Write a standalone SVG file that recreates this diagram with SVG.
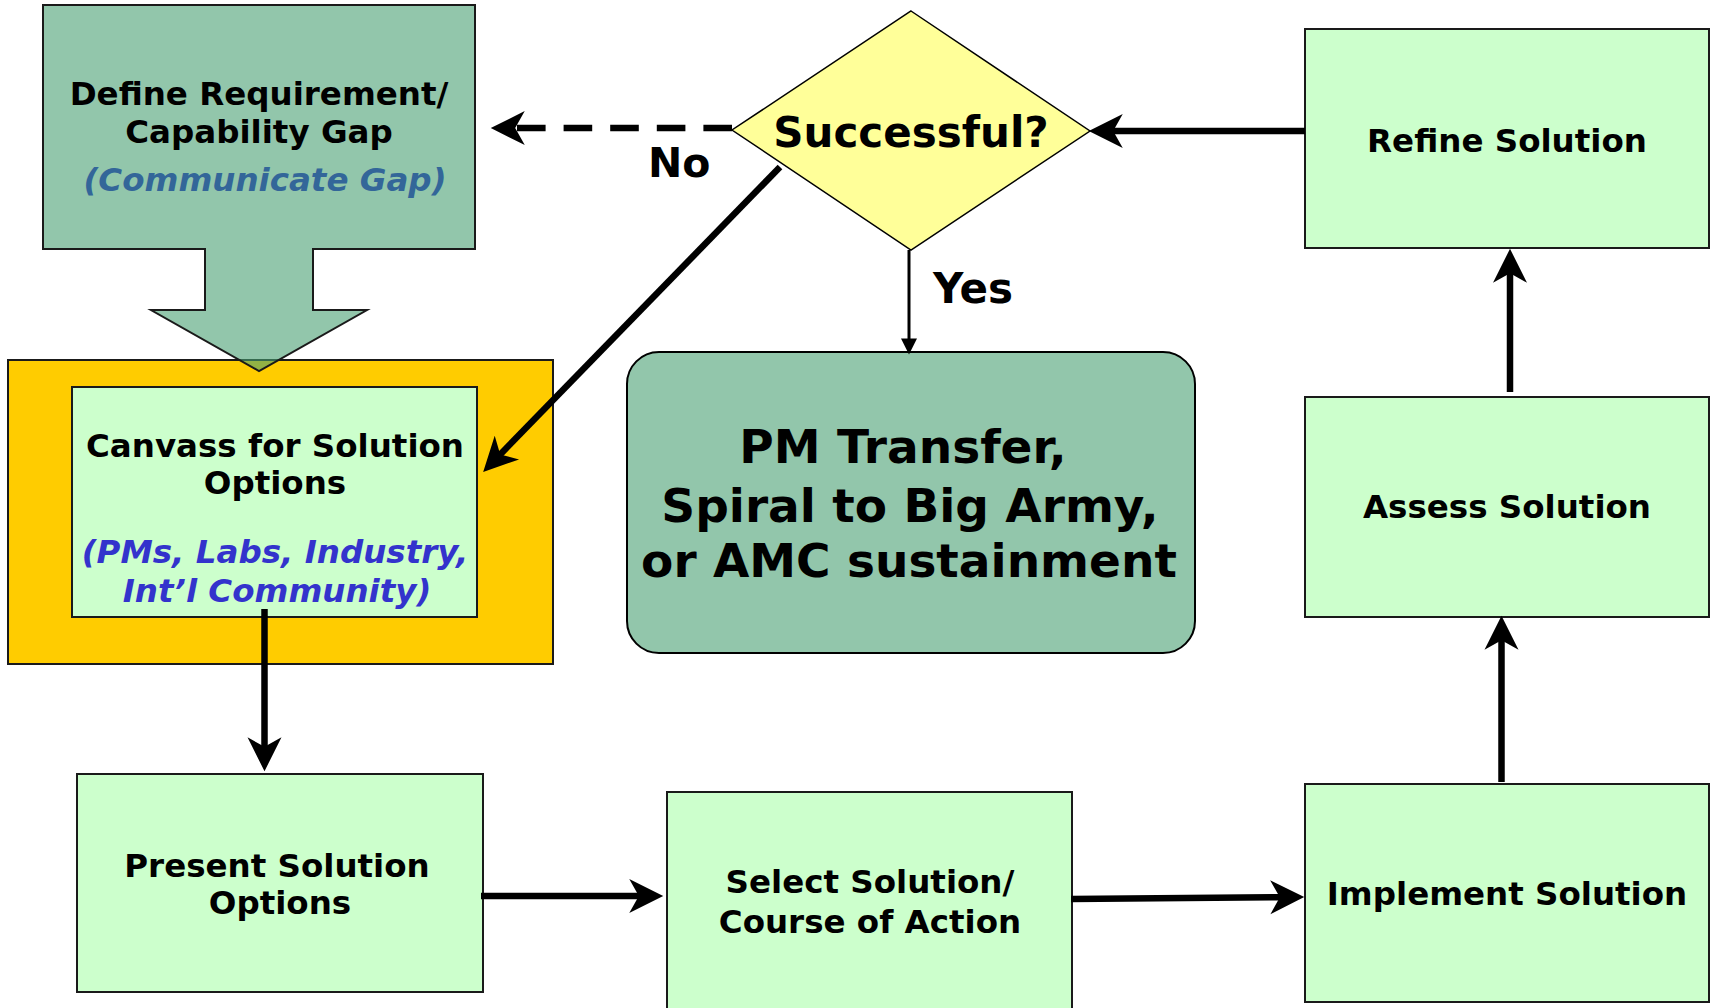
<svg xmlns="http://www.w3.org/2000/svg" width="1711" height="1008" viewBox="0 0 1711 1008">
<style>
text{font-family:"DejaVu Sans","Verdana","Liberation Sans",sans-serif;font-weight:bold;fill:#000;}
.lbl{font-size:32.5px;text-anchor:middle;}
.it{font-style:italic;}
.box{fill:#ccffcc;stroke:#1a1a1a;stroke-width:2;}
.conn{stroke:#000;stroke-width:6.5;fill:none;}
</style>
<defs>
<marker id="ah" markerUnits="userSpaceOnUse" markerWidth="34" markerHeight="34" viewBox="0 0 32 32" refX="12" refY="16" orient="auto" overflow="visible">
<path d="M32,16 L0,0 L9,16 L0,32 Z" fill="#000"/>
</marker>
<marker id="tri" markerUnits="userSpaceOnUse" markerWidth="16" markerHeight="16" viewBox="0 0 15 15" refX="6" refY="7.5" orient="auto" overflow="visible">
<path d="M0,0 L15,7.5 L0,15 Z" fill="#000"/>
</marker>
</defs>
<rect width="1711" height="1008" fill="#fff"/>

<g id="canvass-frame">
<rect x="8" y="360" width="545" height="304" fill="#ffcc00" stroke="#1a1a1a" stroke-width="2"/>
</g>

<g id="define">
<polygon points="43,5 475,5 475,249 313,249 313,310 367,310 259,371 151,310 205,310 205,249 43,249" fill="#49a073" fill-opacity="0.6" stroke="#1a1a1a" stroke-width="2"/>
<text class="lbl" x="259" y="105">Define Requirement/</text>
<text class="lbl" x="259" y="143">Capability Gap</text>
<text class="lbl it" x="265" y="191" style="fill:#336699">(Communicate Gap)</text>
</g>

<g id="canvass">
<rect class="box" x="72" y="387" width="405" height="230"/>
<text class="lbl" x="275" y="457">Canvass for Solution</text>
<text class="lbl" x="275" y="494">Options</text>
<text class="lbl it" x="275" y="563" style="fill:#3333cc">(PMs, Labs, Industry,</text>
<text class="lbl it" x="277" y="602" style="fill:#3333cc">Int’l Community)</text>
</g>

<g id="decision">
<polygon points="911,11 1090,131 911,250 732,130" fill="#ffff99" stroke="#000" stroke-width="1.5"/>
<text x="911" y="147" style="font-size:42px;text-anchor:middle">Successful?</text>
</g>

<g id="transfer">
<rect x="627" y="352" width="568" height="301" rx="32" ry="32" fill="#92c6ab" stroke="#000" stroke-width="2"/>
<text x="903" y="463" style="font-size:47px;text-anchor:middle">PM Transfer,</text>
<text x="910" y="522" style="font-size:47px;text-anchor:middle">Spiral to Big Army,</text>
<text x="909" y="577" style="font-size:47px;text-anchor:middle">or AMC sustainment</text>
</g>

<g id="refine">
<rect class="box" x="1305" y="29" width="404" height="219"/>
<text class="lbl" x="1507" y="152">Refine Solution</text>
</g>

<g id="assess">
<rect class="box" x="1305" y="397" width="404" height="220"/>
<text class="lbl" x="1507" y="518">Assess Solution</text>
</g>

<g id="implement">
<rect class="box" x="1305" y="784" width="404" height="218"/>
<text class="lbl" x="1507" y="905">Implement Solution</text>
</g>

<g id="present">
<rect class="box" x="77" y="774" width="406" height="218"/>
<text class="lbl" x="277" y="877">Present Solution</text>
<text class="lbl" x="280" y="914">Options</text>
</g>

<g id="select">
<rect class="box" x="667" y="792" width="405" height="222"/>
<text class="lbl" x="870" y="893">Select Solution/</text>
<text class="lbl" x="870" y="933">Course of Action</text>
</g>

<g id="connectors">
<line class="conn" x1="1305" y1="131" x2="1110" y2="131" marker-end="url(#ah)"/>
<line class="conn" x1="732" y1="128" x2="512" y2="128" stroke-dasharray="28.6 18" marker-end="url(#ah)"/>
<line class="conn" x1="780" y1="167" x2="498" y2="456.7" marker-end="url(#ah)"/>
<line x1="909" y1="250" x2="909" y2="345" stroke="#000" stroke-width="3" marker-end="url(#tri)"/>
<line class="conn" x1="264.5" y1="609" x2="264.5" y2="750" marker-end="url(#ah)"/>
<line class="conn" x1="481" y1="896" x2="642" y2="896" marker-end="url(#ah)"/>
<line class="conn" x1="1071" y1="899" x2="1283" y2="897.2" marker-end="url(#ah)"/>
<line class="conn" x1="1501.5" y1="782" x2="1501.5" y2="637" marker-end="url(#ah)"/>
<line class="conn" x1="1510" y1="392" x2="1510" y2="270" marker-end="url(#ah)"/>
<text x="648" y="177" style="font-size:41px">No</text>
<text x="933" y="303" style="font-size:42px">Yes</text>
</g>
</svg>
